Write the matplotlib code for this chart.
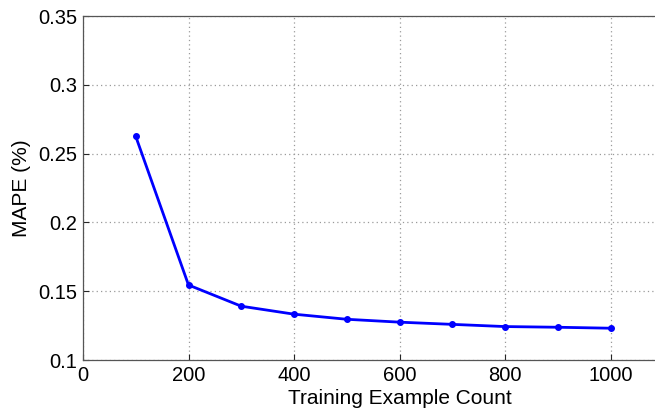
import matplotlib
matplotlib.use("Agg")
import matplotlib.pyplot as plt
from matplotlib.ticker import FuncFormatter

train_count = [100, 200, 300, 400, 500, 600, 700, 800, 900, 1000]
mape = [0.2625, 0.1545, 0.1391, 0.1333, 0.1296, 0.1275, 0.1259, 0.1243, 0.1238, 0.1231]
x_ticks = [0, 200, 400, 600, 800, 1000]
y_ticks = [0.1, 0.15, 0.2, 0.25, 0.3, 0.35]

plt.rcParams["font.family"] = ["Liberation Sans", "DejaVu Sans"]

W, H = 655, 411
fig = plt.figure(figsize=(W / 100, H / 100), dpi=100)
# axes runs past the right edge of the picture, as in the reference
left, right, top, bottom = 83, 716, 16, 360
ax = fig.add_axes([left / W, 1 - bottom / H, (right - left) / W, (bottom - top) / H])

ax.plot(train_count, mape, color="#0000ff", linewidth=2, marker="o", markersize=4)

ax.set_xlim(0, 1200)
ax.set_ylim(0.1, 0.35)
ax.set_xticks(x_ticks)
ax.set_yticks(y_ticks)
ax.yaxis.set_major_formatter(FuncFormatter(lambda v, p: f"{v:g}"))
ax.grid(True, linestyle=(0, (1, 2.5)), color="#9a9a9a", linewidth=0.9)
ax.tick_params(direction="in", length=4, labelsize=14.5, colors="#262626", labelcolor="black", pad=4)
for s in ax.spines.values():
    s.set_color("#555555")
    s.set_linewidth(0.9)

ax.set_xlabel("Training Example Count", fontsize=15, labelpad=3)
ax.set_ylabel("MAPE (%)", fontsize=15, labelpad=5)

fig.savefig("out.png", dpi=100)
